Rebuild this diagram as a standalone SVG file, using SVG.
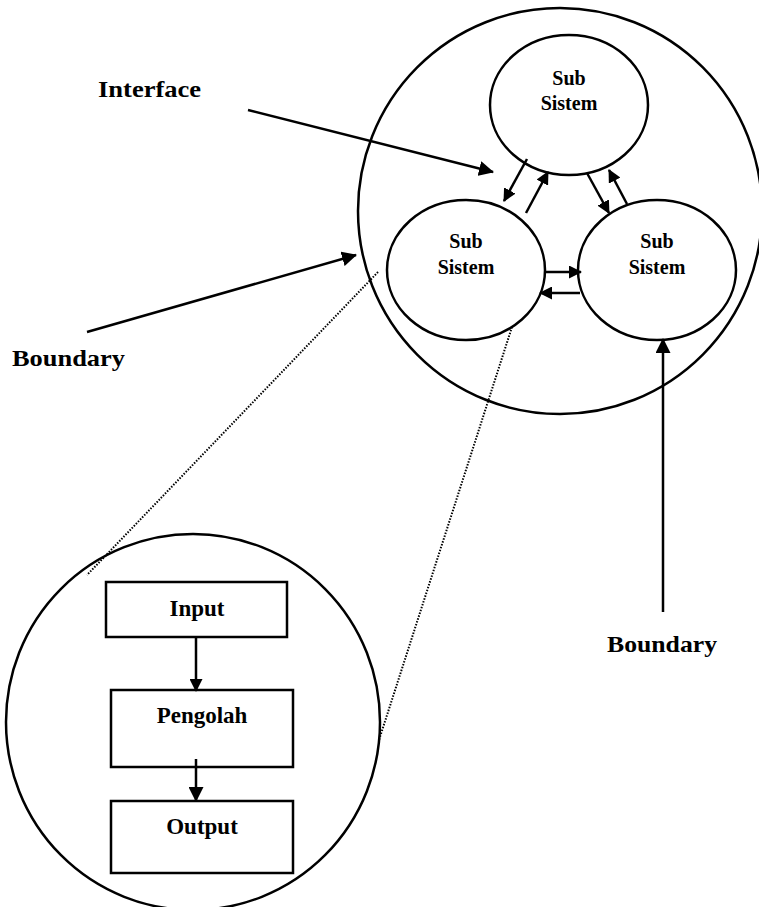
<svg xmlns="http://www.w3.org/2000/svg" width="759" height="907" viewBox="0 0 759 907">
<style>
.sh{fill:none;stroke:#000;stroke-width:2.5}
.ln{fill:none;stroke:#000;stroke-width:2.5}
.dot{fill:none;stroke:#000;stroke-width:2;stroke-dasharray:1.5 1.5}
.t{font-family:"Liberation Serif","Times New Roman",serif;font-weight:bold;fill:#000}
.s{font-size:20px;text-anchor:middle}
.b{font-size:23px;text-anchor:middle}
.l{font-size:24px}
</style>
<defs>
<marker id="ah" markerWidth="13" markerHeight="13" refX="12" refY="6.5" orient="auto" markerUnits="userSpaceOnUse" viewBox="0 0 13 13">
<path d="M0,0 L13,6.5 L0,13 z" fill="#000"/>
</marker>
<marker id="ahs" markerWidth="15" markerHeight="15" refX="14" refY="7.5" orient="auto" markerUnits="userSpaceOnUse" viewBox="0 0 15 15">
<path d="M0,0 L15,7.5 L0,15 z" fill="#000"/>
</marker>
</defs>
<rect width="759" height="907" fill="#fff"/>
<g id="system"><ellipse class="sh" cx="560" cy="211" rx="202" ry="203"/></g>
<g id="sub-top"><ellipse class="sh" cx="569" cy="105" rx="79" ry="70"/>
<text class="t s" x="569" y="85">Sub</text><text class="t s" x="569" y="110">Sistem</text></g>
<g id="sub-left"><ellipse class="sh" cx="466" cy="270" rx="79" ry="70"/>
<text class="t s" x="466" y="248">Sub</text><text class="t s" x="466" y="274">Sistem</text></g>
<g id="sub-right"><ellipse class="sh" cx="657" cy="270" rx="79" ry="70"/>
<text class="t s" x="657" y="248">Sub</text><text class="t s" x="657" y="274">Sistem</text></g>
<g id="zoom"><ellipse class="sh" cx="193" cy="722" rx="187" ry="188"/></g>
<g id="input"><rect class="sh" x="106" y="582" width="181" height="55"/><text class="t b" x="197" y="616">Input</text></g>
<g id="pengolah"><rect class="sh" x="111" y="690" width="182" height="77"/><text class="t b" x="202" y="723">Pengolah</text></g>
<g id="output"><rect class="sh" x="111" y="801" width="182" height="72"/><text class="t b" x="202" y="834">Output</text></g>
<g id="label-interface"><text class="t l" x="98" y="97" textLength="103" lengthAdjust="spacingAndGlyphs">Interface</text></g>
<g id="label-boundary-left"><text class="t l" x="12" y="366" textLength="113" lengthAdjust="spacingAndGlyphs">Boundary</text></g>
<g id="label-boundary-right"><text class="t l" x="607" y="652" textLength="110" lengthAdjust="spacingAndGlyphs">Boundary</text></g>
<g id="connectors">
<line class="ln" x1="527" y1="159" x2="504" y2="201" marker-end="url(#ah)"/>
<line class="ln" x1="526" y1="213" x2="548" y2="172" marker-end="url(#ah)"/>
<line class="ln" x1="587" y1="173" x2="609" y2="213" marker-end="url(#ah)"/>
<line class="ln" x1="627" y1="204" x2="609" y2="170" marker-end="url(#ah)"/>
<line class="ln" x1="545" y1="272" x2="581" y2="272" marker-end="url(#ah)"/>
<line class="ln" x1="580" y1="293" x2="540" y2="293" marker-end="url(#ah)"/>
<line class="ln" x1="248" y1="110" x2="493" y2="172" marker-end="url(#ahs)"/>
<line class="ln" x1="87" y1="332" x2="356" y2="255" marker-end="url(#ahs)"/>
<line class="ln" x1="663" y1="612" x2="663" y2="339" marker-end="url(#ahs)"/>
<line class="ln" x1="196" y1="637" x2="196" y2="691" marker-end="url(#ah)"/>
<line class="ln" x1="196" y1="759" x2="196" y2="801" marker-end="url(#ahs)"/>
<line class="dot" x1="378" y1="272" x2="87" y2="575"/>
<line class="dot" x1="512" y1="327" x2="379" y2="740"/>
</g>
</svg>
